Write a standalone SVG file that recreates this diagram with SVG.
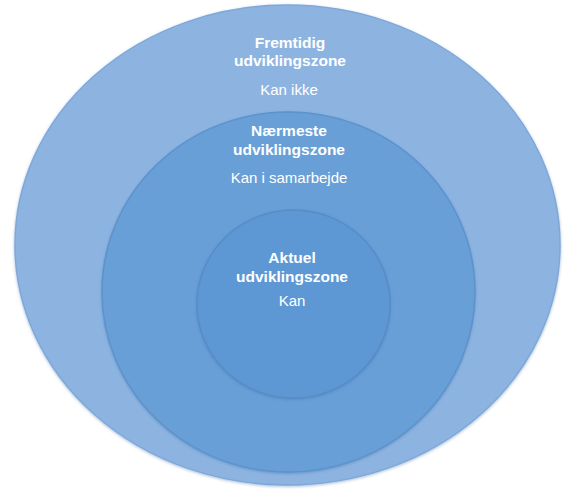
<svg xmlns="http://www.w3.org/2000/svg" width="568" height="495" viewBox="0 0 568 495">
  <defs>
    <filter id="soft" x="-5%" y="-5%" width="110%" height="110%">
      <feGaussianBlur in="SourceAlpha" stdDeviation="1.5"/>
      <feOffset dx="0" dy="1" result="b"/>
      <feFlood flood-color="#3f6fa8" flood-opacity="0.45"/>
      <feComposite in2="b" operator="in" result="s"/>
      <feMerge><feMergeNode in="s"/><feMergeNode in="SourceGraphic"/></feMerge>
    </filter>
  </defs>
  <style>
    .zone { filter: url(#soft); }
    .t { font-family: "Liberation Sans", Arial, sans-serif; fill: #ffffff; text-anchor: middle; }
    .b { font-weight: bold; font-size: 15.5px; }
    .r { font-size: 15px; }
  </style>
  <rect width="568" height="495" fill="#ffffff"/>
  <g id="fremtidig">
    <ellipse class="zone" cx="287.5" cy="245" rx="272.5" ry="240" fill="#8db4e1" stroke="#7fa8da" stroke-width="1.5"/>
    <text class="t b" x="290" y="48">Fremtidig</text>
    <text class="t b" x="290" y="66">udviklingszone</text>
    <text class="t r" x="289" y="95">Kan ikke</text>
  </g>
  <g id="naermeste">
    <ellipse class="zone" cx="288.5" cy="292" rx="186.5" ry="180" fill="#679fd7" stroke="#5d93cd" stroke-width="1.5"/>
    <text class="t b" x="289" y="136">Nærmeste</text>
    <text class="t b" x="289" y="155">udviklingszone</text>
    <text class="t r" x="289" y="183">Kan i samarbejde</text>
  </g>
  <g id="aktuel">
    <ellipse class="zone" cx="293.5" cy="304" rx="96.5" ry="94" fill="#5d98d5" stroke="#578dc8" stroke-width="1.5"/>
    <text class="t b" x="292" y="263">Aktuel</text>
    <text class="t b" x="292" y="282">udviklingszone</text>
    <text class="t r" x="292" y="306">Kan</text>
  </g>
  <g id="connectors"/>
</svg>
